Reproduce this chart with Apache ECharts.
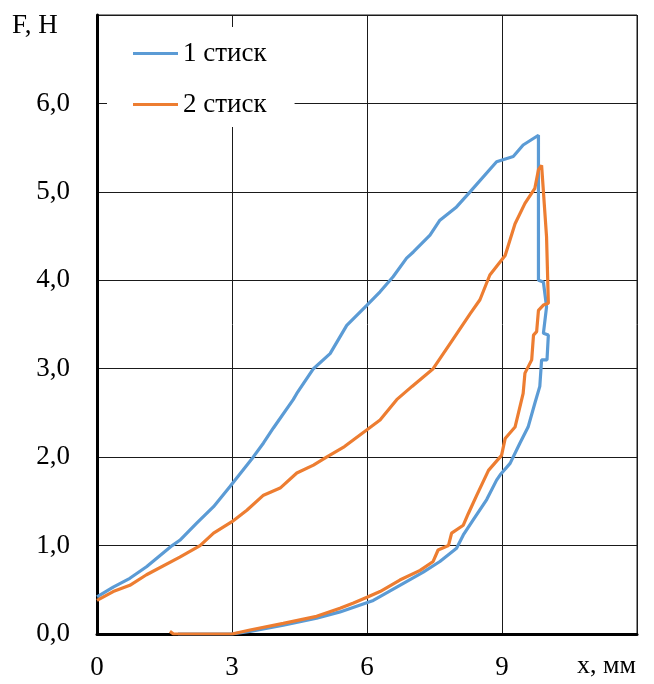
<!DOCTYPE html>
<html>
<head>
<meta charset="utf-8">
<script src="https://cdn.jsdelivr.net/npm/echarts@6/dist/echarts.min.js"></script>
<style>
html,body{margin:0;padding:0;background:#fff;}
#chart{width:654px;height:684px;}
</style>
</head>
<body>
<div id="chart"></div>
<script>
const seriesNames = ['1 стиск', '2 стиск'];

const blueX = [0, 0.36, 0.73, 1.10, 1.67, 1.84, 2.21, 2.59, 2.96, 3.47, 3.70, 3.92, 4.36, 4.44, 4.81, 5.18, 5.55, 6.00, 6.29, 6.58, 6.88, 7.03, 7.40, 7.62, 7.99, 8.29, 8.88, 9.25, 9.47, 9.81, 9.81, 9.81, 9.92, 9.99, 9.92, 10.03, 10.00, 9.88, 9.84, 9.73, 9.58, 9.40, 9.18, 8.96, 8.88, 8.66, 8.36, 8.14, 7.99, 7.62, 7.25, 6.73, 6.14, 5.40, 4.88, 4.14, 3.40, 3.00, 2.20, 1.80];
const blueY = [0.42, 0.53, 0.63, 0.76, 1.00, 1.06, 1.25, 1.44, 1.67, 2.00, 2.16, 2.33, 2.65, 2.72, 3.00, 3.17, 3.49, 3.72, 3.87, 4.04, 4.25, 4.32, 4.51, 4.68, 4.83, 5.00, 5.34, 5.40, 5.53, 5.64, 5.66, 4.00, 3.98, 3.70, 3.40, 3.38, 3.10, 3.10, 2.80, 2.61, 2.34, 2.16, 1.93, 1.80, 1.74, 1.52, 1.29, 1.12, 0.97, 0.82, 0.70, 0.55, 0.38, 0.25, 0.18, 0.10, 0.03, 0.00, 0.00, 0.00];

const orangeX = [0, 0.36, 0.73, 1.10, 1.84, 2.29, 2.59, 3.00, 3.33, 3.70, 4.07, 4.44, 4.81, 5.10, 5.50, 6.00, 6.29, 6.66, 7.00, 7.47, 7.88, 8.29, 8.51, 8.73, 9.07, 9.29, 9.51, 9.73, 9.81, 9.88, 9.99, 10.03, 9.92, 9.81, 9.77, 9.70, 9.66, 9.51, 9.47, 9.29, 9.07, 8.99, 8.70, 8.44, 8.25, 8.14, 7.88, 7.81, 7.58, 7.47, 7.18, 6.73, 6.29, 6.00, 5.70, 5.40, 4.88, 4.14, 3.40, 3.00, 2.40, 1.70, 1.62];
const orangeY = [0.38, 0.48, 0.55, 0.67, 0.87, 1.00, 1.14, 1.27, 1.40, 1.57, 1.65, 1.82, 1.91, 2.00, 2.12, 2.31, 2.42, 2.65, 2.80, 3.00, 3.31, 3.62, 3.78, 4.06, 4.28, 4.64, 4.87, 5.04, 5.25, 5.30, 4.49, 3.74, 3.72, 3.66, 3.42, 3.38, 3.10, 2.95, 2.72, 2.34, 2.21, 2.02, 1.85, 1.57, 1.36, 1.23, 1.14, 1.00, 0.95, 0.82, 0.72, 0.61, 0.48, 0.415, 0.35, 0.29, 0.20, 0.12, 0.045, 0.00, 0.00, 0.00, 0.03];

const xTickLabels = ['0', '3', '6', '9', ''];
const yTickLabels = ['0,0', '1,0', '2,0', '3,0', '4,0', '5,0', '6,0', ''];
const xAxisTitle = 'x, мм';
const yAxisTitle = 'F, H';

const colors = ['#5B9BD5', '#ED7D31'];
const FONT = '"Liberation Serif", "Times New Roman", serif';

function pairs(xs, ys) { return xs.map((x, i) => [x, ys[i]]); }

const chart = echarts.init(document.getElementById('chart'), null, {renderer: 'canvas'});
chart.setOption({
  animation: false,
  backgroundColor: '#fff',
  color: colors,
  grid: {left: 97, right: 17, top: 15, bottom: 50, show: true, borderColor: '#1a1a1a', borderWidth: 1, backgroundColor: 'transparent'},
  legend: {
    orient: 'vertical',
    left: 107, top: 27,
    backgroundColor: '#fff',
    padding: [13, 28, 9, 26],
    itemGap: 24,
    itemWidth: 45, itemHeight: 3,
    icon: 'rect',
    textStyle: {fontFamily: FONT, fontSize: 27, color: '#000', lineHeight: 26},
    data: seriesNames
  },
  xAxis: {
    type: 'value', min: 0, max: 12, interval: 3,
    axisLine: {show: true, onZero: false, lineStyle: {color: '#000', width: 3}},
    axisTick: {show: false},
    splitLine: {show: true, lineStyle: {color: '#1a1a1a', width: 1}},
    axisLabel: {
      margin: 20, fontFamily: FONT, fontSize: 27, color: '#000',
      formatter: v => xTickLabels[Math.round(v / 3)] || ''
    }
  },
  yAxis: {
    type: 'value', min: 0, max: 7, interval: 1,
    axisLine: {show: true, onZero: false, lineStyle: {color: '#000', width: 3}},
    axisTick: {show: false},
    splitLine: {show: true, lineStyle: {color: '#1a1a1a', width: 1}},
    axisLabel: {
      margin: 27, fontFamily: FONT, fontSize: 27, color: '#000',
      formatter: v => yTickLabels[Math.round(v)] || ''
    }
  },
  graphic: [
    {type: 'text', left: 12, top: 12, style: {text: yAxisTitle, font: '27px ' + FONT, fill: '#000'}},
    {type: 'text', left: 577, top: 653, style: {text: xAxisTitle, font: '26px ' + FONT, fill: '#000'}}
  ],
  series: [
    {name: seriesNames[0], type: 'line', showSymbol: false, symbol: 'none', lineStyle: {width: 3.2, color: colors[0]}, data: pairs(blueX, blueY), z: 2},
    {name: seriesNames[1], type: 'line', showSymbol: false, symbol: 'none', lineStyle: {width: 3.2, color: colors[1]}, data: pairs(orangeX, orangeY), z: 3}
  ]
});
</script>
</body>
</html>
